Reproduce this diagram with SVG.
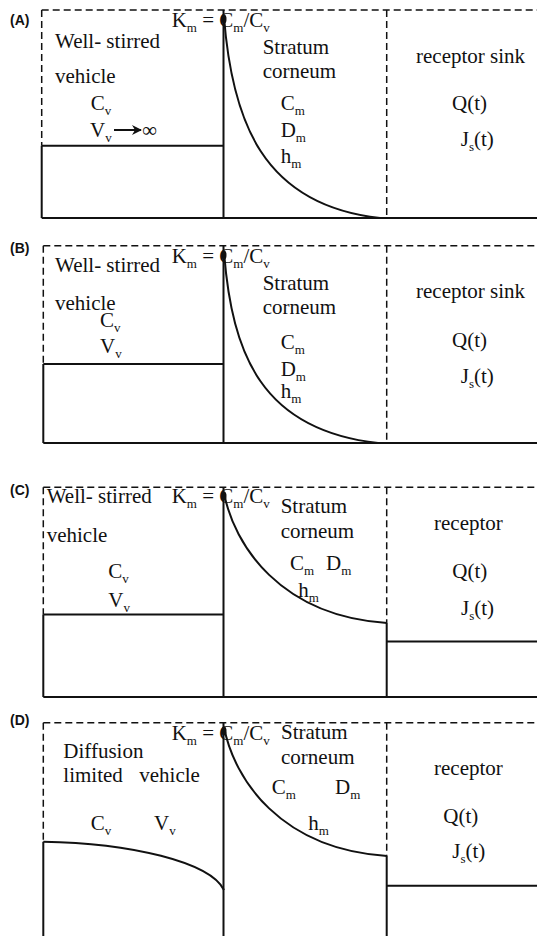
<svg xmlns="http://www.w3.org/2000/svg" width="537" height="936" viewBox="0 0 537 936">
<defs>
<style>
.t{font-family:"Liberation Serif","Times New Roman",serif;font-size:21px;fill:#111}
.s{font-size:13px}
.lab{font-family:"Liberation Sans",Arial,sans-serif;font-size:14px;font-weight:bold;fill:#111}
.sol{stroke:#111;stroke-width:2;fill:none}
.dsh{stroke:#111;stroke-width:1.5;fill:none;stroke-dasharray:7 4}
.dot{fill:#111}
</style>
<marker id="ah" viewBox="0 0 10 10" refX="9" refY="5" markerWidth="10" markerHeight="10" markerUnits="userSpaceOnUse" orient="auto">
<path d="M0,0 L10,5 L0,10 L3,5 Z" fill="#111"/>
</marker>
</defs>
<rect width="537" height="936" fill="#fff"/>

<g id="panelA">
<g id="A-lines">
<path class="dsh" d="M41.7,10 H537 M41.7,10 V145.7 M386.7,10 V218"/>
<path class="sol" d="M41.7,145.7 H223.5 M41.7,145.7 V218 M223.5,10 V218 M41.7,218 H537"/>
<path class="sol" d="M224,17 C232,120 262,205 380,218"/>
<ellipse class="dot" cx="224" cy="19" rx="2.5" ry="4.5"/>
<line class="sol" x1="114" y1="130" x2="141" y2="130" marker-end="url(#ah)"/>
</g>
<text class="lab" x="10" y="25">(A)</text>
<text class="t" x="171.7" y="27">K<tspan class="s" dy="5">m</tspan><tspan dy="-5"> = C</tspan><tspan class="s" dy="5">m</tspan><tspan dy="-5">/C</tspan><tspan class="s" dy="5">v</tspan></text>
<text class="t" x="55" y="48">Well- stirred</text>
<text class="t" x="55" y="83">vehicle</text>
<text class="t" x="90.7" y="110">C<tspan class="s" dy="5">v</tspan></text>
<text class="t" x="90" y="137">V<tspan class="s" dy="5">v</tspan></text>
<text class="t" x="142" y="137">∞</text>
<text class="t" x="262.7" y="54">Stratum</text>
<text class="t" x="262.7" y="78">corneum</text>
<text class="t" x="280.7" y="110">C<tspan class="s" dy="5">m</tspan></text>
<text class="t" x="280.7" y="137">D<tspan class="s" dy="5">m</tspan></text>
<text class="t" x="280.7" y="163">h<tspan class="s" dy="5">m</tspan></text>
<text class="t" x="416" y="63">receptor sink</text>
<text class="t" x="452" y="110">Q(t)</text>
<text class="t" x="460.7" y="146">J<tspan class="s" dy="5">s</tspan><tspan dy="-5">(t)</tspan></text>
</g>

<g id="panelB">
<g id="B-lines">
<path class="dsh" d="M43.3,245.7 H537 M43.3,245.7 V364 M386.7,245.7 V443"/>
<path class="sol" d="M43.3,364 H223.5 M43.3,364 V443 M223.5,245.7 V443 M43.3,443 H537"/>
<path class="sol" d="M224,252 C232,355 262,430 378,443"/>
<ellipse class="dot" cx="224" cy="255" rx="2.5" ry="4.5"/>
</g>
<text class="lab" x="10" y="253">(B)</text>
<text class="t" x="171.7" y="263.3">K<tspan class="s" dy="5">m</tspan><tspan dy="-5"> = C</tspan><tspan class="s" dy="5">m</tspan><tspan dy="-5">/C</tspan><tspan class="s" dy="5">v</tspan></text>
<text class="t" x="55" y="271.7">Well- stirred</text>
<text class="t" x="55" y="310">vehicle</text>
<text class="t" x="100" y="326.7">C<tspan class="s" dy="5">v</tspan></text>
<text class="t" x="100" y="353.3">V<tspan class="s" dy="5">v</tspan></text>
<text class="t" x="262.7" y="290">Stratum</text>
<text class="t" x="262.7" y="314">corneum</text>
<text class="t" x="280.7" y="349.3">C<tspan class="s" dy="5">m</tspan></text>
<text class="t" x="280.7" y="375.7">D<tspan class="s" dy="5">m</tspan></text>
<text class="t" x="280.7" y="398">h<tspan class="s" dy="5">m</tspan></text>
<text class="t" x="416" y="298.3">receptor sink</text>
<text class="t" x="452" y="346.7">Q(t)</text>
<text class="t" x="460.7" y="383.3">J<tspan class="s" dy="5">s</tspan><tspan dy="-5">(t)</tspan></text>
</g>

<g id="panelC">
<g id="C-lines">
<path class="dsh" d="M43.3,487.3 H537 M43.3,487.3 V614.5 M386.7,487.3 V623"/>
<path class="sol" d="M43.3,614.5 H223.5 M43.3,614.5 V697 M223.5,487.3 V697 M386.7,623 V697 M386.7,641.5 H537 M43.3,697 H537"/>
<path class="sol" d="M224,493 C234,545 280,616 387,623"/>
<ellipse class="dot" cx="224" cy="496" rx="2.5" ry="4.5"/>
</g>
<text class="lab" x="10" y="495">(C)</text>
<text class="t" x="46.7" y="503.3">Well- stirred</text>
<text class="t" x="171.7" y="503.3">K<tspan class="s" dy="5">m</tspan><tspan dy="-5"> = C</tspan><tspan class="s" dy="5">m</tspan><tspan dy="-5">/C</tspan><tspan class="s" dy="5">v</tspan></text>
<text class="t" x="46.7" y="541.7">vehicle</text>
<text class="t" x="108.3" y="578.3">C<tspan class="s" dy="5">v</tspan></text>
<text class="t" x="108.3" y="606.7">V<tspan class="s" dy="5">v</tspan></text>
<text class="t" x="280.7" y="513.3">Stratum</text>
<text class="t" x="280.7" y="538.3">corneum</text>
<text class="t" x="290" y="570">C<tspan class="s" dy="5">m</tspan></text>
<text class="t" x="326" y="570">D<tspan class="s" dy="5">m</tspan></text>
<text class="t" x="298.3" y="596.7">h<tspan class="s" dy="5">m</tspan></text>
<text class="t" x="434" y="530">receptor</text>
<text class="t" x="452.3" y="578.3">Q(t)</text>
<text class="t" x="461" y="615">J<tspan class="s" dy="5">s</tspan><tspan dy="-5">(t)</tspan></text>
</g>

<g id="panelD">
<g id="D-lines">
<path class="dsh" d="M43.3,722.7 H537 M43.3,722.7 V841.7 M386.7,722.7 V856"/>
<path class="sol" d="M43.3,841.7 V936 M223.5,722.7 V936 M386.7,856 V936 M386.7,885.7 H537"/>
<path class="sol" d="M43.3,841.7 C130,843 210,862 224,890"/>
<path class="sol" d="M224,727 C234,779 280,849 387,856"/>
<ellipse class="dot" cx="224" cy="731" rx="2.5" ry="4.5"/>
</g>
<text class="lab" x="10" y="725">(D)</text>
<text class="t" x="171.7" y="740">K<tspan class="s" dy="5">m</tspan><tspan dy="-5"> = C</tspan><tspan class="s" dy="5">m</tspan><tspan dy="-5">/C</tspan><tspan class="s" dy="5">v</tspan></text>
<text class="t" x="281" y="739.3">Stratum</text>
<text class="t" x="63.3" y="758.3">Diffusion</text>
<text class="t" x="63.3" y="781.7">limited</text>
<text class="t" x="139.3" y="781.7">vehicle</text>
<text class="t" x="90.7" y="830">C<tspan class="s" dy="5">v</tspan></text>
<text class="t" x="154" y="830">V<tspan class="s" dy="5">v</tspan></text>
<text class="t" x="281" y="764">corneum</text>
<text class="t" x="271.7" y="794">C<tspan class="s" dy="5">m</tspan></text>
<text class="t" x="335" y="794">D<tspan class="s" dy="5">m</tspan></text>
<text class="t" x="308.3" y="830">h<tspan class="s" dy="5">m</tspan></text>
<text class="t" x="434" y="775">receptor</text>
<text class="t" x="443.3" y="823.3">Q(t)</text>
<text class="t" x="452.3" y="858.3">J<tspan class="s" dy="5">s</tspan><tspan dy="-5">(t)</tspan></text>
</g>
</svg>
